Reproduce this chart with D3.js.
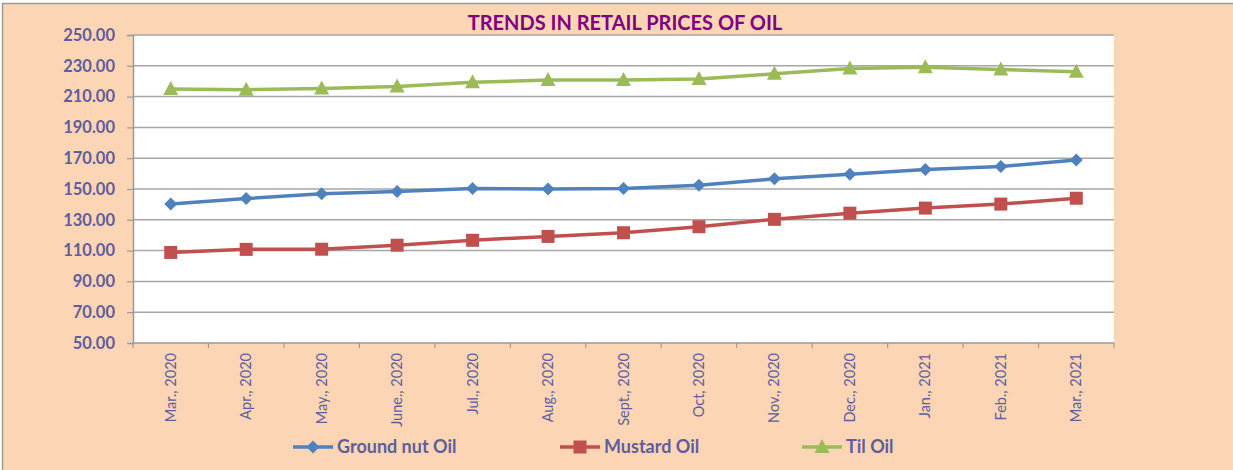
<!DOCTYPE html>
<html>
<head>
<meta charset="utf-8">
<script src="https://cdn.jsdelivr.net/npm/d3@7"></script>
<style>
  body { margin: 0; background: #fff; }
  svg { display: block; }
</style>
</head>
<body>
<svg id="chart" width="1233" height="470"></svg>
<script>
// data
const months = ["Mar., 2020", "Apr., 2020", "May., 2020", "June., 2020", "Jul., 2020", "Aug., 2020",
    "Sept., 2020", "Oct, 2020", "Nov., 2020", "Dec., 2020", "Jan., 2021", "Feb., 2021", "Mar., 2021"];
const groundnut = [140.2, 143.8, 146.9, 148.3, 150.4, 150.0, 150.4, 152.4, 156.6, 159.6, 162.6, 164.6, 168.8];
const mustard = [108.8, 110.8, 110.9, 113.5, 116.7, 119.2, 121.6, 125.5, 130.3, 134.3, 137.6, 140.2, 144.0];
const til = [215.0, 214.5, 215.2, 216.5, 219.3, 220.8, 220.8, 221.5, 224.8, 228.2, 229.0, 227.6, 226.2];
const yTicks = [50, 70, 90, 110, 130, 150, 170, 190, 210, 230, 250];

const series = [
    { name: "Ground nut Oil", values: groundnut, color: "#4F81BD", marker: "diamond" },
    { name: "Mustard Oil", values: mustard, color: "#C0504D", marker: "square" },
    { name: "Til Oil", values: til, color: "#9BBB59", marker: "triangle" }
];

const svg = d3.select("#chart");
const textColor = "#5E5E9E";
const plotLeft = 133, plotRight = 1114, plotTop = 35, plotBottom = 343;

// chart area background + border
svg.append("rect").attr("x", 2.5).attr("y", 3.5).attr("width", 1240).attr("height", 480)
    .attr("fill", "#FCD5B4").attr("stroke", "#9a9a9a").attr("stroke-width", 1.5);

svg.append("rect").attr("x", plotLeft).attr("y", plotTop).attr("width", plotRight - plotLeft).attr("height", plotBottom - plotTop)
    .attr("fill", "#fff");

let x = d3.scaleBand().domain(months).range([plotLeft, plotRight]);
let y = d3.scaleLinear().domain([50, 250]).range([plotBottom, plotTop]);

// gridlines
svg.append("g").selectAll("line").data(yTicks.filter(d => d > 50)).join("line")
    .attr("x1", plotLeft).attr("x2", plotRight)
    .attr("y1", d => y(d)).attr("y2", d => y(d))
    .attr("stroke", "#A6A6A6").attr("stroke-width", 1.5);

// y axis
let yAxis = svg.append("g").attr("transform", `translate(${plotLeft},0)`)
    .call(d3.axisLeft(y).tickValues(yTicks).tickSize(6).tickPadding(12).tickFormat(d3.format(".2f")));
yAxis.select(".domain").attr("stroke", "#9a9a9a").attr("stroke-width", 1.5);
yAxis.selectAll(".tick line").attr("stroke", "#9a9a9a").attr("stroke-width", 1.2);
yAxis.selectAll("text").attr("fill", textColor).style("font-family", "Lato, sans-serif")
    .style("font-size", "16.5px").style("font-weight", "bold");

// x axis, ticks on category boundaries
let xAxis = svg.append("g").attr("transform", `translate(0,${plotBottom})`);
xAxis.append("line").attr("x1", plotLeft).attr("x2", plotRight).attr("y1", 0).attr("y2", 0)
    .attr("stroke", "#9a9a9a").attr("stroke-width", 1.5);
xAxis.selectAll(".tk").data(months.concat(["end"])).join("line").attr("class", "tk")
    .attr("x1", (d, i) => i < months.length ? x(d) : plotRight)
    .attr("x2", (d, i) => i < months.length ? x(d) : plotRight)
    .attr("y1", 0).attr("y2", 5).attr("stroke", "#9a9a9a").attr("stroke-width", 1.2);
xAxis.selectAll("text").data(months).join("text")
    .attr("transform", d => `translate(${x(d) + x.bandwidth() / 2 + 5},10) rotate(-90)`)
    .attr("text-anchor", "end")
    .attr("fill", textColor).style("font-family", "Lato, sans-serif").style("font-size", "14.5px")
    .text(d => d);

// title
svg.append("text").attr("x", 625).attr("y", 30).attr("text-anchor", "middle")
    .attr("fill", "#800080").style("font-family", "Lato, sans-serif").style("font-size", "20px")
    .style("font-weight", "bold").text("TRENDS IN RETAIL PRICES OF OIL");

function marker(sel, type, color) {
    if (type === "diamond") {
        sel.append("path").attr("d", "M0,-6.5L6.5,0L0,6.5L-6.5,0Z").attr("fill", color);
    } else if (type === "square") {
        sel.append("rect").attr("x", -6.5).attr("y", -6.5).attr("width", 13).attr("height", 13).attr("fill", color);
    } else {
        sel.append("path").attr("d", "M0,-8L7.5,6L-7.5,6Z").attr("fill", color);
    }
}

let line = d3.line().x((d, i) => x(months[i]) + x.bandwidth() / 2).y(d => y(d));

series.forEach(s => {
    svg.append("path").datum(s.values).attr("d", line)
        .attr("fill", "none").attr("stroke", s.color).attr("stroke-width", 3.5);
    svg.append("g").selectAll("g").data(s.values).join("g")
        .attr("transform", (d, i) => `translate(${x(months[i]) + x.bandwidth() / 2},${y(d)})`)
        .each(function () { marker(d3.select(this), s.marker, s.color); });
});

// legend
let legendX = [293, 560, 802];
series.forEach((s, i) => {
    let g = svg.append("g").attr("transform", `translate(${legendX[i]},447)`);
    g.append("line").attr("x1", 0).attr("x2", 40).attr("stroke", s.color).attr("stroke-width", 3.5);
    marker(g.append("g").attr("transform", "translate(20,0)"), s.marker, s.color);
    g.append("text").attr("x", 44).attr("y", 6).attr("fill", textColor)
        .style("font-family", "Lato, sans-serif").style("font-size", "18px").style("font-weight", "bold")
        .text(s.name);
});
</script>
</body>
</html>
